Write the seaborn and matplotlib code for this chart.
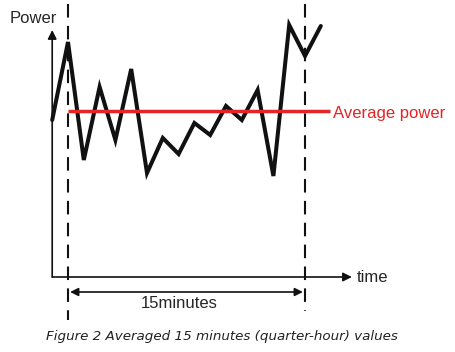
import numpy as np
import pandas as pd
import matplotlib
matplotlib.use('Agg')
import matplotlib.pyplot as plt
import seaborn as sns

sns.set_style('white')
plt.rcParams['font.family'] = ['Liberation Sans', 'DejaVu Sans']

# data: one reading per minute, the 15 min window runs from 0 to 15
minutes = [-1, 0, 1, 2, 3, 4, 5, 6, 7, 8, 9, 10, 11, 12, 13, 14, 15, 16]
power = [15.7, 23.5, 11.7, 19.0, 13.7, 20.8, 10.4, 13.9, 12.3, 15.4,
         14.2, 17.1, 15.7, 18.7, 10.1, 25.2, 22.1, 25.1]
avg_power = 16.6
window_start, window_end = 0, 15

BLACK = '#111111'
RED = '#E32526'

df = pd.DataFrame({'minute': minutes, 'power': power})

fig = plt.figure(figsize=(4.56, 3.52), dpi=100)
ax = fig.add_axes([0, 0, 1, 1])

# hand drawn style axes with arrow heads
origin = -1
arrow = dict(arrowstyle='-|>', lw=1.2, color=BLACK, mutation_scale=13,
             shrinkA=0, shrinkB=0)
ax.annotate('', xy=(origin, 24.7), xytext=(origin, 0), arrowprops=arrow)
ax.annotate('', xy=(17.97, 0), xytext=(origin, 0), arrowprops=arrow)
ax.text(-3.67, 25.4, 'Power', fontsize=12, ha='left', va='baseline')
ax.text(18.29, -0.5, 'time', fontsize=12, ha='left', va='baseline')

# window borders
for t, bottom in [(window_start, -4.3), (window_end, -3.4)]:
    ax.plot([t, t], [27.3, bottom], color=BLACK, lw=1.5,
            linestyle=(0, (6.5, 4.0)))

# measured power
sns.lineplot(data=df, x='minute', y='power', color=BLACK, lw=2.9,
             solid_joinstyle='miter', ax=ax)

# average over the window
ax.plot([window_start, 16.6], [avg_power, avg_power], color=RED, lw=2.5,
        solid_capstyle='butt')
ax.text(16.77, 15.9, 'Average power', fontsize=12, color=RED,
        ha='left', va='baseline')

# window length
ax.annotate('', xy=(window_end, -1.5), xytext=(window_start, -1.5),
            arrowprops=dict(arrowstyle='<|-|>', lw=1.2, color=BLACK,
                            mutation_scale=12, shrinkA=1.5, shrinkB=1.5))
ax.text(7.03, -3.1, '15minutes', fontsize=12, ha='center', va='baseline')

ax.set_xlim(-4.304, 24.557)
ax.set_ylim(-7.5, 27.7)
ax.axis('off')

fig.text(221.5 / 456, 1 - 340 / 352,
         'Figure 2 Averaged 15 minutes (quarter-hour) values',
         fontsize=9.7, style='italic', family=['DejaVu Sans'], color='#222222',
         ha='center', va='baseline')

plt.savefig('out.png', dpi=100)
plt.close(fig)
print('saved out.png')
